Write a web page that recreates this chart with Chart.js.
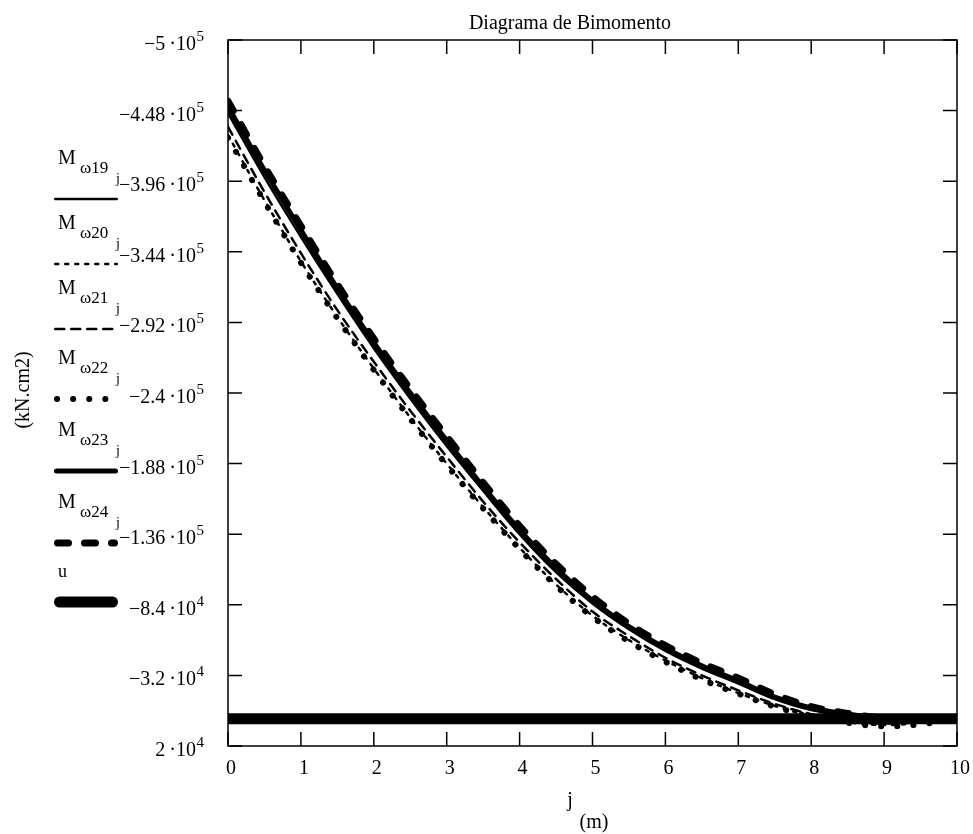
<!DOCTYPE html>
<html>
<head>
<meta charset="utf-8">
<script src="https://cdn.jsdelivr.net/npm/chart.js@4.4.0/dist/chart.umd.min.js"></script>
<style>
html, body { margin: 0; padding: 0; background: #fff; }
#wrap { width: 973px; height: 834px; }
</style>
</head>
<body>
<div id="wrap"><canvas id="chartBimomento" width="973" height="834"></canvas></div>
<script>
// position along the bar, j (m)
var jValues = [0, 0.5, 1, 1.5, 2, 2.5, 3, 3.5, 4, 4.5, 5, 5.5, 6, 6.5, 7, 7.5, 8, 8.5, 9, 9.5, 10];

// bimoment (kN.cm2)
var mw19 = [-446000, -399000, -355000, -313000, -273000, -236000, -201000, -168000, -136000, -108000, -85000, -66000, -50000, -37000, -26000, -14500, -6500, -2500, 500, 1000, 0];
var mw20 = [-430000, -382000, -337000, -296000, -258000, -222000, -188000, -156000, -126000, -99000, -76000, -58000, -43000, -30000, -19000, -9500, -2000, 2500, 4600, 3000, 0];
var mw21 = [-436000, -388000, -343000, -301000, -263000, -227000, -193000, -160000, -130000, -103000, -79000, -61000, -45000, -32000, -21000, -11000, -3500, 1500, 3500, 2500, 0];
var mw22 = [-428000, -381000, -336000, -295000, -257000, -221000, -187000, -155000, -125000, -98000, -75000, -57000, -42000, -29000, -18500, -9000, -1500, 3000, 5500, 4000, 0];
var mw23 = [-451000, -404000, -360000, -317000, -277000, -240000, -205000, -171000, -139000, -111000, -87000, -68000, -52000, -39000, -28000, -16000, -8000, -3500, 0, 800, 0];
var mw24 = [-455000, -407000, -363000, -320000, -280000, -243000, -208000, -174000, -142000, -114000, -90000, -70000, -54000, -41000, -30000, -18000, -9000, -4000, -500, 500, 0];
var uLine = [0, 0, 0, 0, 0, 0, 0, 0, 0, 0, 0, 0, 0, 0, 0, 0, 0, 0, 0, 0, 0];

var yTicks = [-500000, -448000, -396000, -344000, -292000, -240000, -188000, -136000, -84000, -32000, 20000];
var xTicks = [0, 1, 2, 3, 4, 5, 6, 7, 8, 9, 10];
var legendSubs = ['ω19', 'ω20', 'ω21', 'ω22', 'ω23', 'ω24', ''];

var SERIF = '"Liberation Serif", "DejaVu Serif", serif';
var legendLineY = [199, 264, 329, 399, 471, 543, 602];

function pts(arr) {
  return jValues.map(function (j, i) { return { x: j, y: arr[i] }; });
}

function line(label, arr, width, dash) {
  return {
    label: label,
    data: pts(arr),
    borderColor: '#000',
    borderWidth: width,
    borderDash: dash,
    borderCapStyle: 'round',
    pointRadius: 0,
    fill: false,
    cubicInterpolationMode: 'monotone',
    clip: 0
  };
}

var datasets = [
  line('Mω19', mw19, 2.5, []),
  line('Mω20', mw20, 2.5, [3, 7]),
  line('Mω21', mw21, 2.5, [9, 7]),
  line('Mω22', mw22, 6, [0.1, 16]),
  line('Mω23', mw23, 5, []),
  line('Mω24', mw24, 7, [11, 16]),
  line('u', uLine, 11, [])
];

function sci(v) {
  var e = Math.floor(Math.log10(Math.abs(v)));
  var m = Math.round(v / Math.pow(10, e) * 1000) / 1000;
  return { base: (m < 0 ? '\u2212' : '') + Math.abs(m) + '\u2009\u00b710', exp: String(e) };
}

var decorPlugin = {
  id: 'decor',
  afterDraw: function (chart) {
    var ctx = chart.ctx;
    var a = chart.chartArea;
    var xs = chart.scales.x, ys = chart.scales.y;
    ctx.save();
    ctx.strokeStyle = '#000';
    ctx.fillStyle = '#000';
    ctx.setLineDash([]);
    ctx.lineCap = 'butt';

    // frame
    ctx.lineWidth = 1.5;
    ctx.strokeRect(a.left, a.top, a.right - a.left, a.bottom - a.top);

    // inward ticks
    ctx.beginPath();
    yTicks.forEach(function (v) {
      var y = ys.getPixelForValue(v);
      ctx.moveTo(a.left, y); ctx.lineTo(a.left + 14, y);
      ctx.moveTo(a.right, y); ctx.lineTo(a.right - 14, y);
    });
    xTicks.forEach(function (v) {
      var x = xs.getPixelForValue(v);
      ctx.moveTo(x, a.bottom); ctx.lineTo(x, a.bottom - 14);
      ctx.moveTo(x, a.top); ctx.lineTo(x, a.top + 14);
    });
    ctx.stroke();

    // y tick labels
    yTicks.forEach(function (v) {
      var y = ys.getPixelForValue(v);
      var s = sci(v);
      ctx.textAlign = 'right';
      ctx.textBaseline = 'alphabetic';
      ctx.font = '15px ' + SERIF;
      var ew = ctx.measureText(s.exp).width;
      ctx.fillText(s.exp, 204, y + 1);
      ctx.font = '20px ' + SERIF;
      ctx.fillText(s.base, 204 - ew - 0.5, y + 10);
    });

    // x tick labels
    ctx.font = '20px ' + SERIF;
    ctx.textAlign = 'center';
    xTicks.forEach(function (v) {
      var x = xs.getPixelForValue(v);
      ctx.fillText(String(v), x + 3, 774);
    });

    // titles
    ctx.fillText('Diagrama de Bimomento', 570, 29);
    ctx.fillText('j', 570, 806);
    ctx.fillText('(m)', 594, 828);
    ctx.save();
    ctx.translate(29, 390);
    ctx.rotate(-Math.PI / 2);
    ctx.fillText('(kN.cm2)', 0, 0);
    ctx.restore();

    // legend
    chart.data.datasets.forEach(function (ds, i) {
      var ly = legendLineY[i];
      ctx.textAlign = 'left';
      if (legendSubs[i]) {
        ctx.font = '20px ' + SERIF;
        ctx.fillText('M', 58, ly - 35);
        ctx.font = '17px ' + SERIF;
        ctx.fillText(legendSubs[i], 80, ly - 26);
        ctx.font = '14px ' + SERIF;
        ctx.fillText('j', 116, ly - 16);
      } else {
        ctx.font = '18px ' + SERIF;
        ctx.fillText(ds.label, 58, ly - 25);
      }
      ctx.beginPath();
      ctx.lineWidth = ds.borderWidth;
      ctx.lineCap = 'round';
      ctx.setLineDash(ds.borderDash);
      var x0 = 54 + ds.borderWidth / 2, x1 = 118 - ds.borderWidth / 2;
      ctx.moveTo(x0, ly);
      ctx.lineTo(x1, ly);
      ctx.stroke();
    });
    ctx.restore();
  }
};

var ctx = document.getElementById('chartBimomento').getContext('2d');
var chartBimomento = new Chart(ctx, {
  type: 'line',
  data: { datasets: datasets },
  options: {
    responsive: false,
    animation: false,
    devicePixelRatio: 1,
    layout: { padding: { left: 228, top: 40, right: 16, bottom: 88 } },
    scales: {
      x: { type: 'linear', min: 0, max: 10, display: false },
      y: { type: 'linear', min: -500000, max: 20000, reverse: true, display: false }
    },
    plugins: {
      legend: { display: false },
      tooltip: { enabled: false },
      title: { display: false }
    }
  },
  plugins: [decorPlugin]
});
</script>
</body>
</html>
